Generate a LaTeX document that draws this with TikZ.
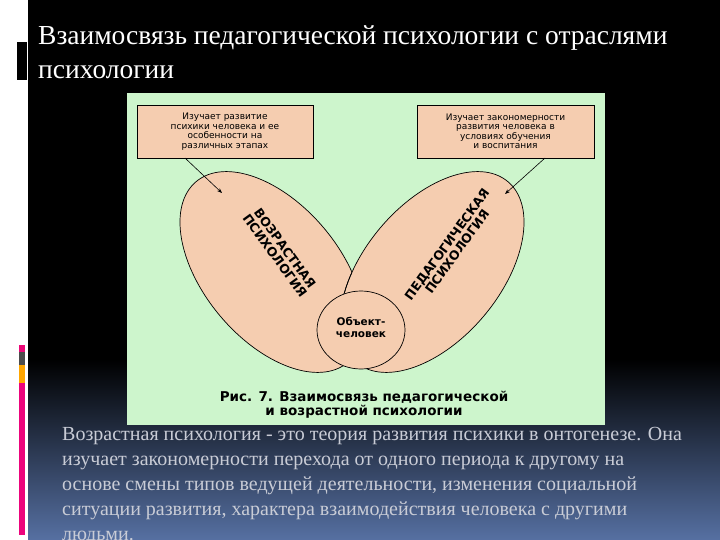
\documentclass[tikz,border=0pt]{standalone}
\usepackage{fontspec}
\usetikzlibrary{arrows.meta}
\setmainfont{Liberation Serif}
\newfontfamily\dv{DejaVu Sans}
\definecolor{bggreen}{HTML}{CDF5CC}
\definecolor{peach}{HTML}{F5CDB0}
\definecolor{txtgray}{HTML}{C9CCD6}
\definecolor{botblue}{HTML}{5670A2}
\begin{document}
\begin{tikzpicture}[x=1pt,y=-1pt,
  info/.style={draw=black,line width=0.8pt,fill=peach,font=\dv\fontsize{9}{9.5}\selectfont,align=center,inner sep=2pt},
  lab/.style={font=\dv\bfseries\fontsize{12.5}{12.5}\selectfont,align=center},
  arr/.style={-{Stealth[length=5pt]},line width=0.6pt}]
\useasboundingbox (0,0) rectangle (720,540);
\fill[black] (28,0) rectangle (720,360);
\shade[top color=black,bottom color=botblue] (28,359) rectangle (720,540);
\fill[white] (0,0) rectangle (28,540);
\fill[black] (17,42) rectangle (27,80);
\fill[magenta!80!red] (19,345) rectangle (25,352);
\fill[gray!60!black] (19,352) rectangle (25,365);
\fill[orange!70!yellow] (19,365) rectangle (25,383);
\fill[magenta!85!red] (19,383) rectangle (25,535);
\node[anchor=base west,text=white,font=\fontsize{27.5}{30}\selectfont,inner sep=0] (t1) at (38,45) {Взаимосвязь педагогической психологии с отраслями};
\node[anchor=base west,text=white,font=\fontsize{27.5}{30}\selectfont,inner sep=0] (t2) at (38,79) {психологии};
\fill[bggreen] (127,93) rectangle (605,425);
\node[info,minimum width=176pt,minimum height=53pt] (b1) at (225,131.5) {Изучает развитие\\психики человека и ее\\особенности на\\различных этапах};
\node[info,minimum width=177pt,minimum height=53pt] (b2) at (505.5,131.5) {Изучает закономерности\\развития человека в\\условиях обучения\\и воспитания};
\def\LE{(272,272) ellipse[x radius=118,y radius=68,rotate=-50]}
\def\RE{(432,272) ellipse[x radius=118,y radius=68,rotate=50]}
\draw[fill=peach,line width=0.7pt] \LE;
\draw[fill=peach,line width=0.7pt] \RE;
\begin{scope}
\clip \LE;
\draw[line width=0.7pt] \RE;
\end{scope}
\draw[line width=0.7pt,fill=peach] (361,330) ellipse[x radius=44,y radius=39];
\node[lab,font=\dv\bfseries\fontsize{10.5}{12}\selectfont] (o) at (361,327) {Объект-\\человек};
\node[lab,rotate=-54] (l1) at (280,252) {ВОЗРАСТНАЯ\\ПСИХОЛОГИЯ};
\node[lab,rotate=54] (l2) at (452,248) {ПЕДАГОГИЧЕСКАЯ\\ПСИХОЛОГИЯ};
\coordinate (e1) at (222,193);
\coordinate (e2) at (505,194);
\draw[arr] (185,158) -- (e1);
\draw[arr] (545,158) -- (e2);
\node[font=\dv\bfseries\fontsize{13.5}{14}\selectfont,align=center] (cap) at (364,405) {Рис. 7. Взаимосвязь педагогической\\и возрастной психологии};
\node[anchor=north west,text=txtgray,align=left,font=\fontsize{20}{25}\selectfont,inner sep=0] (body) at (62,427) {Возрастная психология - это теория развития психики в онтогенезе. Она\\изучает закономерности перехода от одного периода к другому на\\основе смены типов ведущей деятельности, изменения социальной\\ситуации развития, характера взаимодействия человека с другими\\людьми.};
\end{tikzpicture}
\end{document}
